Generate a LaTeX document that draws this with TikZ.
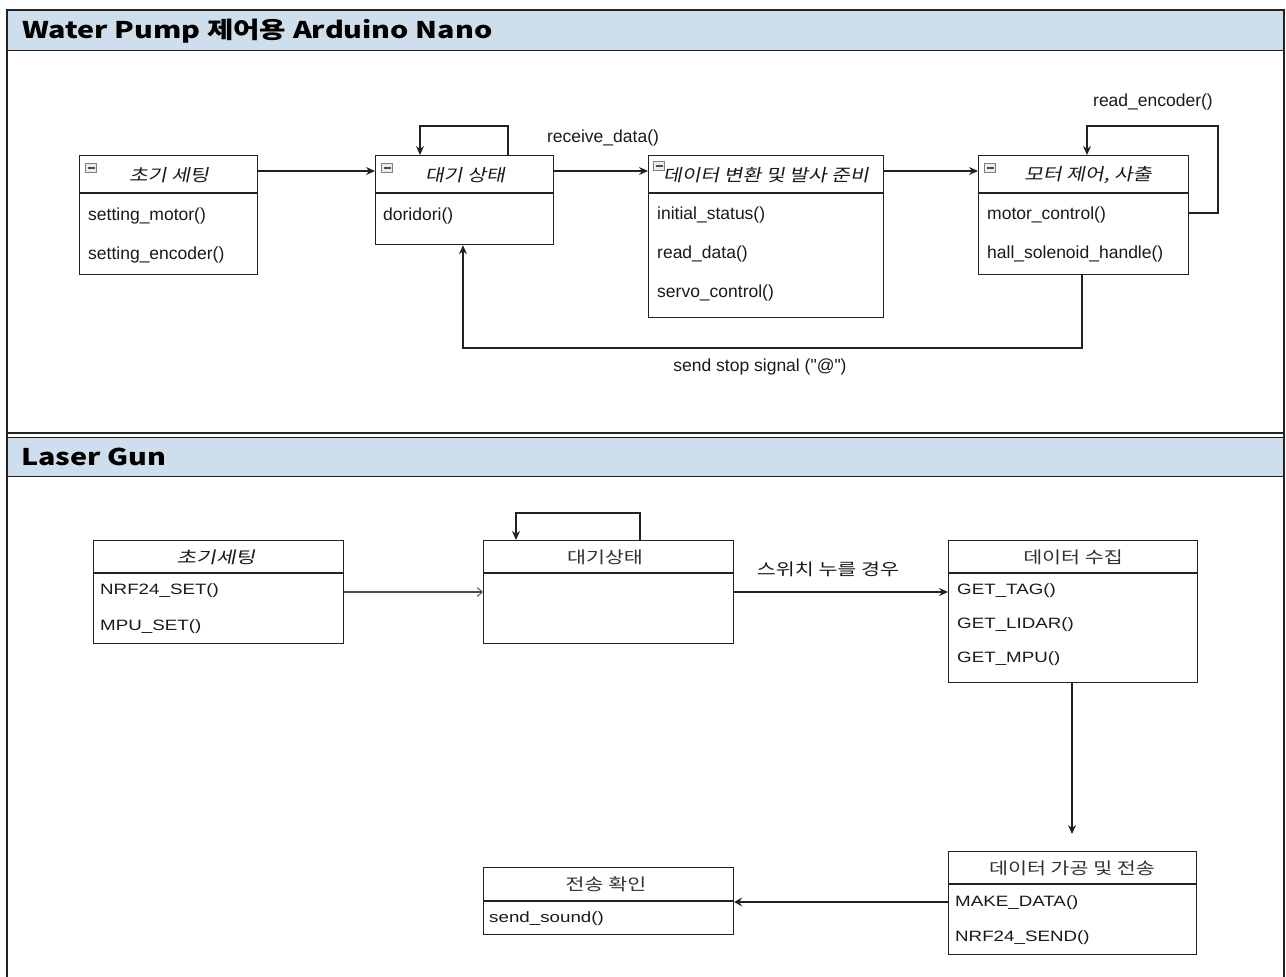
\documentclass[tikz,border=0pt]{standalone}
\usepackage{fontspec}
\setmainfont{Liberation Sans}
\newfontfamily\rawsans{Liberation Sans}
\newfontfamily\widesans[FakeStretch=1.25]{Liberation Sans}
\newfontfamily\kr{Noto Sans CJK KR}
\newfontfamily\krw[FakeStretch=1.25]{Noto Sans CJK KR}
\newfontfamily\krbig[FakeStretch=1.25]{Noto Sans CJK KR}
\newfontfamily\krit[FakeSlant=0.2,FakeStretch=1.2]{Noto Sans CJK KR}
\newfontfamily\kritw[FakeSlant=0.2,FakeStretch=1.3]{Noto Sans CJK KR}
\usetikzlibrary{arrows.meta,calc}
\definecolor{hdrfill}{HTML}{CFDEED}
\definecolor{linec}{HTML}{222222}
\definecolor{txt}{HTML}{1A1A1A}
\tikzset{
  frame/.style={draw=linec, line width=1.3pt},
  band/.style={fill=hdrfill, draw=linec, line width=1.3pt, anchor=north west, inner sep=0, minimum width=1277pt, minimum height=40pt},
  bandtext/.style={anchor=west, inner sep=0, font=\krbig\bfseries\fontsize{23}{27}\selectfont},
  box/.style={draw=linec, line width=1.2pt, fill=white, anchor=north west, inner sep=0},
  divider/.style={draw=linec, line width=1.2pt},
  item/.style={anchor=west, inner sep=0, text=txt, font=\rawsans\fontsize{17.5}{20}\selectfont},
  itemb/.style={anchor=west, inner sep=0, text=txt, font=\widesans\fontsize{15}{17}\selectfont},
  ttl/.style={inner sep=0, text=txt, font=\krit\fontsize{17}{20}\selectfont},
  ttlb/.style={inner sep=0, text=txt!90, font=\krw\fontsize{16.5}{19}\selectfont},
  lbl/.style={inner sep=0, text=txt, font=\rawsans\fontsize{17.5}{20}\selectfont},
  arr/.style={draw=linec, line width=1.2pt, -{Stealth[length=9pt,width=8pt]}},
  openarr/.style={draw=linec!80, line width=1.2pt, -{Straight Barb[length=5pt,width=9pt,line width=1pt]}},
  icon/.style={draw=gray, fill=gray!15, line width=0.8pt, minimum width=11pt, minimum height=9pt, inner sep=0,
    path picture={\draw[line width=1.3pt, black!70] ($(path picture bounding box.west)+(2pt,0)$) -- ($(path picture bounding box.east)+(-2pt,0)$);}},
}
\begin{document}
\begin{tikzpicture}[x=1pt,y=-1pt]
\useasboundingbox (0,0) rectangle (1286,977);
% frame and section bands
\node[band] (band1) at (7,10) {};
\node[band, minimum height=39pt] (band2) at (7,437) {};
\draw[frame] (7,977) -- (7,10) -- (1284,10) -- (1284,977);
\draw[frame] (7,433) -- (1284,433);
\node[bandtext] (t1) at (22,31) {Water Pump 제어용 Arduino Nano};
\node[bandtext] (t2) at (21,457) {Laser\ Gun};

% ===== top section =====
\node[box, minimum width=178pt, minimum height=119pt] (A) at (79,155) {};
\draw[divider] (A.west |- 0,193) -- (A.east |- 0,193);
\node[icon] (Ai) at (91,168) {};
\node[ttl] (At) at (169,175) {초기 세팅};
\node[item] (A1) at (88,216) {setting\_motor()};
\node[item] (A2) at (88,255) {setting\_encoder()};

\node[box, minimum width=178pt, minimum height=89pt] (B) at (375,155) {};
\draw[divider] (B.west |- 0,193) -- (B.east |- 0,193);
\node[icon] (Bi) at (387,168) {};
\node[ttl] (Bt) at (465,175) {대기 상태};
\node[item] (B1) at (383,216) {doridori()};

\node[box, minimum width=235pt, minimum height=162pt] (C) at (648,155) {};
\draw[divider] (C.west |- 0,193) -- (C.east |- 0,193);
\node[icon] (Ci) at (659,166) {};
\node[ttl] (Ct) at (766,175) {데이터 변환 및 발사 준비};
\node[item] (C1) at (657,215) {initial\_status()};
\node[item] (C2) at (657,254) {read\_data()};
\node[item] (C3) at (657,293) {servo\_control()};

\node[box, minimum width=210pt, minimum height=119pt] (D) at (978,155) {};
\draw[divider] (D.west |- 0,193) -- (D.east |- 0,193);
\node[icon] (Di) at (990,168) {};
\node[ttl] (Dt) at (1088,175) {모터 제어, 사출};
\node[item] (D1) at (987,215) {motor\_control()};
\node[item] (D2) at (987,254) {hall\_solenoid\_handle()};

\draw[arr] (A.east |- 0,171) -- (B.west |- 0,171);
\draw[arr] (B.east |- 0,171) -- (C.west |- 0,171);
\draw[arr] (C.east |- 0,171) -- (D.west |- 0,171);
\node[lbl] (Lrecv) at (603,138) {receive\_data()};
\draw[arr] (B.north -| 508,0) |- (420,126) -- (B.north -| 420,0);
\draw[arr] (D.east |- 0,213) -| (1218,126) -| (D.north -| 1087,0);
\node[lbl] (Lenc) at (1153,102) {read\_encoder()};
\draw[arr] (D.south -| 1082,0) |- (463,348) -- (B.south -| 463,0);
\node[lbl] (Lstop) at (760,367) {send stop signal ("@")};

% ===== bottom section =====
\node[box, minimum width=250pt, minimum height=103pt] (E) at (93,540) {};
\draw[divider] (E.west |- 0,573) -- (E.east |- 0,573);
\node[ttl, font=\kritw\fontsize{16.5}{19}\selectfont] (Et) at (216,557) {초기세팅};
\node[itemb] (E1) at (100,591) {NRF24\_SET()};
\node[itemb] (E2) at (100,627) {MPU\_SET()};

\node[box, minimum width=250pt, minimum height=103pt] (F) at (483,540) {};
\draw[divider] (F.west |- 0,573) -- (F.east |- 0,573);
\node[ttlb] (Ft) at (605,557) {대기상태};

\node[box, minimum width=249pt, minimum height=142pt] (G) at (948,540) {};
\draw[divider] (G.west |- 0,573) -- (G.east |- 0,573);
\node[ttlb] (Gt) at (1073,557) {데이터 수집};
\node[itemb] (G1) at (957,591) {GET\_TAG()};
\node[itemb] (G2) at (957,625) {GET\_LIDAR()};
\node[itemb] (G3) at (957,659) {GET\_MPU()};

\node[box, minimum width=248pt, minimum height=103pt] (H) at (948,851) {};
\draw[divider] (H.west |- 0,884) -- (H.east |- 0,884);
\node[ttlb] (Ht) at (1072,868) {데이터 가공 및 전송};
\node[itemb] (H1) at (955,903) {MAKE\_DATA()};
\node[itemb] (H2) at (955,938) {NRF24\_SEND()};

\node[box, minimum width=250pt, minimum height=67pt] (I) at (483,867) {};
\draw[divider] (I.west |- 0,901) -- (I.east |- 0,901);
\node[ttlb] (It) at (606,884) {전송 확인};
\node[itemb] (I1) at (489,919) {send\_sound()};

\draw[openarr] (E.east |- 0,592) -- (F.west |- 0,592);
\draw[arr] (F.east |- 0,592) -- (G.west |- 0,592);
\node[lbl, font=\krw\fontsize{16.5}{19}\selectfont] (Lsw) at (828,569) {스위치 누를 경우};
\draw[arr] (F.north -| 640,0) |- (516,513) -- (F.north -| 516,0);
\draw[arr, shorten >=17pt] (G.south -| 1072,0) -- (H.north -| 1072,0);
\draw[arr, -{Stealth[length=8pt,width=9pt,inset=3pt]}] (H.west |- 0,902) -- (I.east |- 0,902);
\end{tikzpicture}
\end{document}
